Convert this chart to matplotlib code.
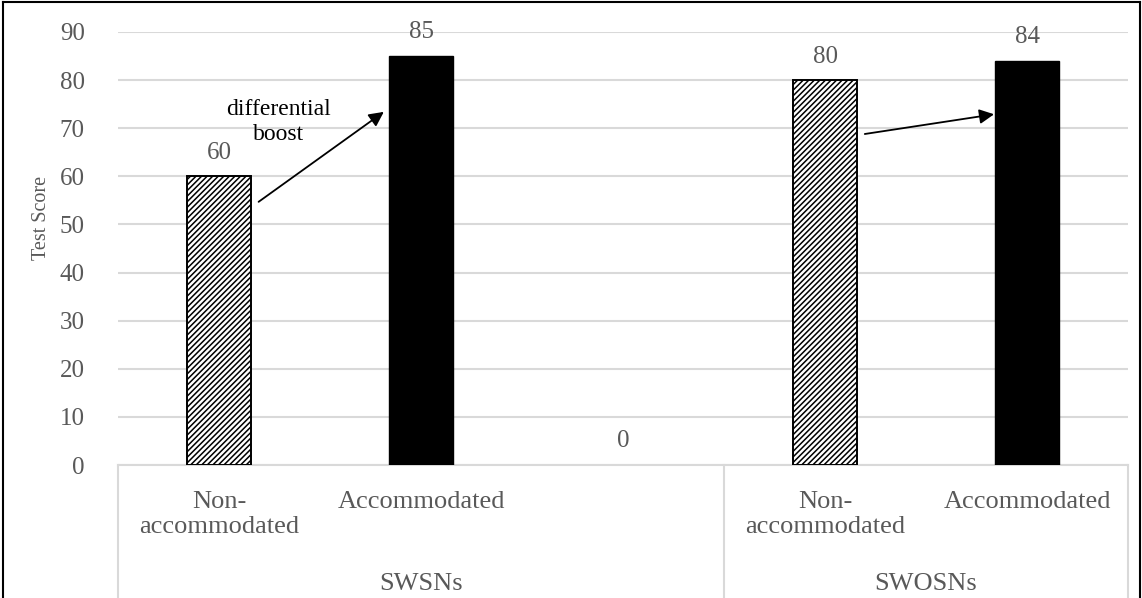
import matplotlib
matplotlib.use("Agg")
from matplotlib import pyplot as plt
from matplotlib.transforms import blended_transform_factory
from matplotlib.lines import Line2D

plt.rcParams['font.family'] = ['Liberation Serif', 'DejaVu Serif']
plt.rcParams['hatch.linewidth'] = 1.1

categories = ['Non-\naccommodated', 'Accommodated', '', 'Non-\naccommodated', 'Accommodated']
groups = ['SWSNs', 'SWOSNs']
group_spans = [(-0.5, 2.5), (2.5, 4.5)]
scores = [60, 85, 0, 80, 84]
kinds = ['hatch', 'solid', 'none', 'hatch', 'solid']

GREY = '#595959'
GRID = '#d9d9d9'

fig = plt.figure(figsize=(11.42, 5.98), dpi=100)
ax = fig.add_axes([118 / 1142, 1 - 465 / 598, (1128 - 118) / 1142, (465 - 32) / 598])

x = list(range(len(categories)))
for xi, v, k in zip(x, scores, kinds):
    if k == 'hatch':
        ax.bar(xi, v, width=0.32, color='white', edgecolor='black', hatch='//////', linewidth=1.4, zorder=3)
    elif k == 'solid':
        ax.bar(xi, v, width=0.32, color='black', edgecolor='black', linewidth=1.0, zorder=3)
    ax.annotate(str(v), (xi, v), xytext=(0, 17), textcoords='offset points',
                ha='center', va='center', fontsize=18, color=GREY)

ax.set_xlim(-0.5, 4.5)
ax.set_ylim(0, 90)
ax.set_yticks(range(0, 91, 10))
ax.yaxis.grid(True, color=GRID, linewidth=1.5, zorder=0)
ax.set_axisbelow(True)
for s in ['top', 'right', 'left']:
    ax.spines[s].set_visible(False)
ax.spines['bottom'].set_color(GRID)
ax.spines['bottom'].set_linewidth(1.5)
ax.tick_params(axis='y', length=0, pad=24, labelsize=18, labelcolor=GREY)
ax.set_xticks(x)
ax.set_xticklabels(categories)
ax.tick_params(axis='x', length=0, pad=19, labelsize=19, labelcolor=GREY)
for lab in ax.get_xticklabels():
    lab.set_linespacing(1.15)

# category box lines below the axis
trans = blended_transform_factory(ax.transData, fig.transFigure)
for xs in [-0.5, 2.5, 4.5]:
    ax.add_line(Line2D([xs, xs], [1 - 465 / 598, 0], transform=trans, color=GRID,
                       linewidth=1.5, clip_on=False))
for g, (a, b) in zip(groups, group_spans):
    ax.text((a + b) / 2, 1 - 584 / 598, g, transform=trans, ha='center', va='center',
            fontsize=19, color=GREY)

fig.text(42 / 1142, 1 - 218 / 598, 'Test Score', rotation=90, ha='center', va='center',
         fontsize=14.5, color=GREY)

# differential boost arrows
ax.annotate('', xy=(0.816, 73.4), xytext=(0.196, 54.7),
            arrowprops=dict(arrowstyle='-|>', mutation_scale=22, lw=1.3, color='black',
                            shrinkA=0, shrinkB=0))
ax.annotate('', xy=(3.837, 72.9), xytext=(3.197, 68.8),
            arrowprops=dict(arrowstyle='-|>', mutation_scale=22, lw=1.3, color='black',
                            shrinkA=0, shrinkB=0))
ax.text(0.296, 71.3, 'differential\nboost', ha='center', va='center', fontsize=17,
        color='black', linespacing=1.2)

# figure border
for xs, ys in [([3 / 1142, 3 / 1142], [0, 1 - 2 / 598]),
               ([3 / 1142, 1 - 2 / 1142], [1 - 2 / 598, 1 - 2 / 598]),
               ([1 - 2 / 1142, 1 - 2 / 1142], [1 - 2 / 598, 0])]:
    fig.add_artist(Line2D(xs, ys, transform=fig.transFigure, color='black', linewidth=1.5))

fig.savefig('out.png', dpi=100)
